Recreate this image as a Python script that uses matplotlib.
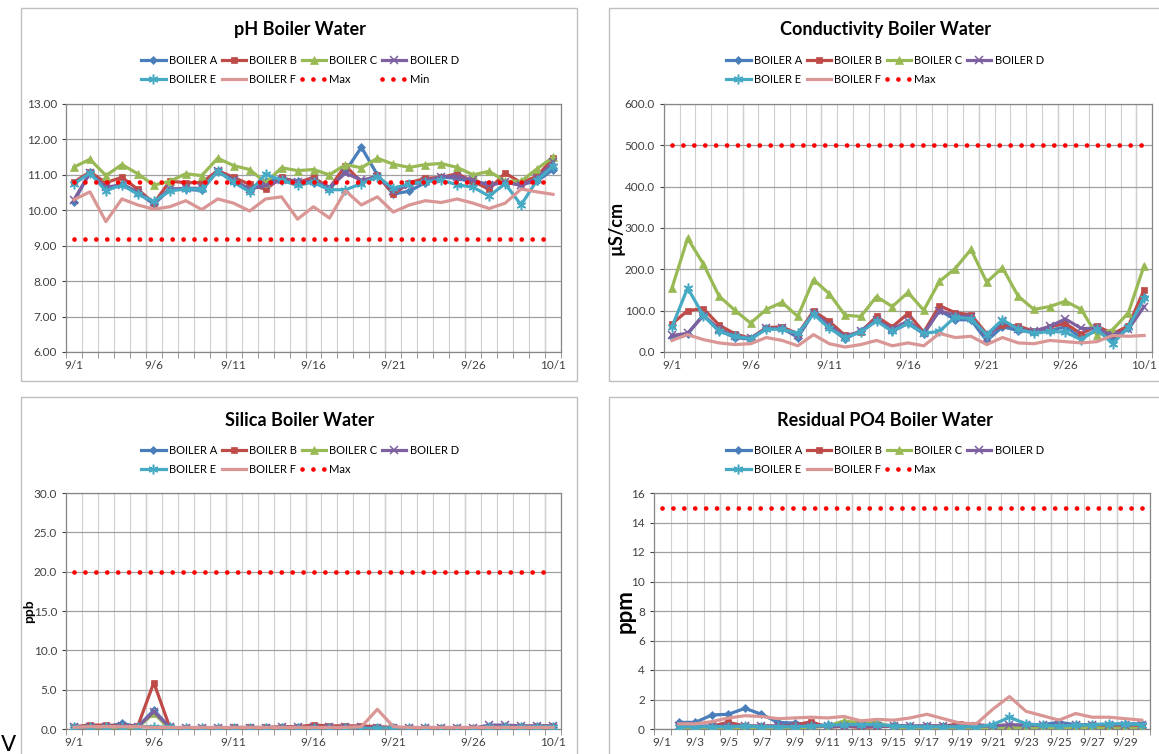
import numpy as np
import pandas as pd
import matplotlib
matplotlib.use("Agg")
import matplotlib.pyplot as plt
from matplotlib.patches import Rectangle
from matplotlib.ticker import FixedLocator, FormatStrFormatter

plt.rcParams['font.family'] = ['Lato', 'DejaVu Sans']

# --- data -------------------------------------------------------------
dates = pd.date_range('2013-09-01', '2013-10-01')
date_labels = [f"{d.month}/{d.day}" for d in dates]

boilers = ['BOILER A', 'BOILER B', 'BOILER C', 'BOILER D', 'BOILER E', 'BOILER F']

ph_a = [10.24, 11.08, 10.59, 10.75, 10.50, 10.17, 10.59, 10.59, 10.56, 11.12, 10.79, 10.54, 10.82, 10.90, 10.82, 10.78,
        10.59, 11.10, 11.78, 11.00, 10.46, 10.54, 10.78, 10.94, 10.90, 10.79, 10.75, 10.78, 10.73, 10.82, 11.15]
ph_b = [10.80, 11.08, 10.78, 10.93, 10.59, 10.20, 10.82, 10.78, 10.78, 11.12, 10.93, 10.73, 10.59, 10.93, 10.78, 10.93,
        10.63, 11.26, 10.79, 10.99, 10.45, 10.78, 10.90, 10.93, 11.03, 10.82, 10.59, 11.05, 10.78, 10.96, 11.47]
ph_c = [11.22, 11.44, 10.98, 11.29, 11.03, 10.71, 10.82, 11.03, 10.98, 11.47, 11.26, 11.15, 10.78, 11.20, 11.12, 11.15,
        11.00, 11.29, 11.20, 11.47, 11.30, 11.21, 11.29, 11.32, 11.21, 11.00, 11.10, 10.82, 10.82, 11.17, 11.50]
ph_d = [10.30, 11.05, 10.65, 10.72, 10.50, 10.22, 10.60, 10.62, 10.62, 11.10, 10.85, 10.60, 10.70, 10.85, 10.80, 10.82,
        10.65, 11.05, 10.85, 10.95, 10.55, 10.72, 10.82, 10.95, 10.95, 10.85, 10.70, 10.80, 10.70, 10.90, 11.35]
ph_e = [10.75, 11.05, 10.55, 10.72, 10.45, 10.25, 10.55, 10.60, 10.60, 11.10, 10.80, 10.52, 11.02, 10.85, 10.70, 10.80,
        10.58, 10.58, 10.75, 10.95, 10.62, 10.75, 10.80, 10.85, 10.72, 10.65, 10.40, 10.75, 10.15, 10.85, 11.25]
ph_f = [10.30, 10.52, 9.68, 10.32, 10.15, 10.03, 10.10, 10.27, 10.02, 10.32, 10.20, 9.98, 10.32, 10.38, 9.75, 10.10,
        9.78, 10.55, 10.15, 10.38, 9.95, 10.15, 10.27, 10.22, 10.32, 10.20, 10.05, 10.20, 10.60, 10.52, 10.45]
ph_max = 10.8
ph_min = 9.2

cond_a = [37, 44, 90, 52, 35, 31, 57, 58, 35, 95, 61, 31, 52, 78, 50, 69, 44, 101, 78, 78, 27, 61, 52, 48, 52, 61, 35, 52, 35, 57, 133]
cond_b = [68, 100, 105, 65, 44, 33, 59, 61, 44, 99, 74, 40, 48, 86, 61, 93, 48, 112, 95, 90, 44, 65, 63, 50, 61, 69, 44, 63, 44, 63, 151]
cond_c = [154, 275, 213, 135, 101, 70, 103, 120, 86, 175, 141, 89, 86, 134, 110, 144, 101, 171, 202, 248, 169, 204, 135, 103,
          110, 123, 103, 41, 54, 95, 209]
cond_d = [40, 45, 88, 55, 38, 33, 57, 57, 40, 95, 65, 36, 50, 78, 55, 75, 45, 100, 88, 85, 35, 75, 55, 50, 62, 80, 57, 57, 40, 55, 110]
cond_e = [60, 155, 88, 50, 38, 32, 55, 55, 45, 92, 57, 35, 48, 75, 50, 70, 45, 50, 85, 80, 42, 78, 55, 45, 50, 48, 30, 55, 20, 60, 130]
cond_f = [28, 42, 30, 22, 18, 20, 35, 28, 15, 42, 20, 12, 18, 28, 15, 22, 15, 45, 35, 38, 18, 35, 22, 20, 28, 25, 22, 25, 40, 38, 40]
cond_max = 500.0

si_a = [0.2, 0.3, 0.3, 0.7, 0.3, 2.4, 0.2, 0.1, 0.1, 0.1, 0.1, 0.1, 0.1, 0.2, 0.2, 0.2, 0.2, 0.2, 0.1, 0.1, 0.1, 0.1, 0.1, 0.1,
        0.1, 0.1, 0.3, 0.3, 0.3, 0.3, 0.3]
si_b = [0.3, 0.5, 0.5, 0.4, 0.4, 5.9, 0.2, 0.1, 0.1, 0.1, 0.2, 0.2, 0.2, 0.3, 0.3, 0.5, 0.4, 0.4, 0.4, 0.3, 0.2, 0.1, 0.1, 0.1,
        0.1, 0.1, 0.3, 0.3, 0.3, 0.4, 0.4]
si_c = [0.1, 0.2, 0.2, 0.2, 0.2, 2.0, 0.0, 0.0, 0.0, 0.0, 0.0, 0.0, 0.0, 0.1, 0.1, 0.1, 0.1, 0.1, 0.1, 0.1, 0.1, 0.0, 0.0, 0.0,
        0.0, 0.0, 0.1, 0.1, 0.1, 0.1, 0.1]
si_d = [0.2, 0.3, 0.3, 0.4, 0.3, 2.2, 0.2, 0.1, 0.1, 0.1, 0.1, 0.1, 0.1, 0.2, 0.2, 0.2, 0.2, 0.2, 0.2, 0.1, 0.1, 0.1, 0.1, 0.1,
        0.1, 0.1, 0.5, 0.5, 0.4, 0.4, 0.4]
si_e = [0.2, 0.3, 0.3, 0.3, 0.3, 0.3, 0.2, 0.1, 0.1, 0.1, 0.1, 0.1, 0.1, 0.1, 0.1, 0.1, 0.1, 0.1, 0.0, 0.1, 0.1, 0.1, 0.1, 0.0,
        0.0, -0.1, 0.2, 0.2, 0.2, 0.3, 0.3]
si_f = [0.2, 0.3, 0.3, 0.3, 0.3, 0.2, 0.2, 0.2, 0.2, 0.2, 0.2, 0.2, 0.2, 0.2, 0.2, 0.2, 0.2, 0.2, 0.3, 2.5, 0.3, 0.2, 0.2, 0.2,
        0.2, 0.2, 0.2, 0.2, 0.2, 0.2, 0.2]
si_max = 20.0

# PO4: axis 9/1..9/30, readings from 9/2
po4_a = [0.45, 0.45, 0.95, 1.0, 1.4, 1.0, 0.45, 0.40, 0.30, 0.25, 0.25, 0.25, 0.25, 0.25, 0.2, 0.2, 0.2, 0.2, 0.2, 0.2, 0.2,
         0.3, 0.3, 0.45, 0.3, 0.25, 0.3, 0.35, 0.35]
po4_b = [0.2, 0.1, 0.2, 0.45, 0.2, 0.2, 0.2, 0.25, 0.5, 0.1, 0.2, 0.1, 0.15, 0.2, 0.15, 0.2, 0.2, 0.35, 0.3, 0.2, 0.15, 0.05,
         0.05, 0.15, 0.2, 0.3, 0.15, 0.1, 0.15]
po4_c = [0.1, 0.1, 0.05, 0.05, 0.05, 0.05, 0.05, 0.05, 0.1, 0.2, 0.55, 0.4, 0.45, 0.1, 0.05, 0.05, 0.05, 0.05, 0.05, 0.1,
         0.1, 0.1, 0.1, 0.1, 0.1, 0.1, 0.05, 0.05, 0.05]
po4_d = [0.2, 0.2, 0.2, 0.2, 0.2, 0.2, 0.2, 0.2, 0.2, 0.2, 0.2, 0.2, 0.2, 0.2, 0.2, 0.2, 0.2, 0.2, 0.2, 0.2, 0.3, 0.25,
         0.25, 0.25, 0.25, 0.3, 0.3, 0.3, 0.3]
po4_e = [0.15, 0.15, 0.15, 0.15, 0.2, 0.15, 0.15, 0.15, 0.2, 0.25, 0.3, 0.3, 0.3, 0.2, 0.15, 0.15, 0.15, 0.15, 0.15, 0.3,
         0.8, 0.35, 0.25, 0.2, 0.25, 0.3, 0.35, 0.35, 0.3]
po4_f = [0.35, 0.35, 0.5, 0.75, 0.9, 0.85, 0.7, 0.75, 0.8, 0.75, 0.85, 0.55, 0.65, 0.6, 0.75, 1.0, 0.7, 0.4, 0.35, 1.35,
         2.2, 1.2, 0.9, 0.6, 1.05, 0.8, 0.8, 0.7, 0.6]
po4_max = 15.0

# --- styles -----------------------------------------------------------
colors = ['#4A7EBB', '#BE4B48', '#98B954', '#7D60A0', '#46AAC5', '#D99694']
markers = ['D', 's', '^', 'x', (6, 2, 0), None]
msizes = [4, 5, 6, 6, 7, 0]
red = '#FF0000'
dot_style = (0, (0.01, 2.3))

W, H = 1159, 754
fig = plt.figure(figsize=(W / 100, H / 100), dpi=100)


def px_axes(x0, y0, x1, y1):
    return fig.add_axes([x0 / W, 1 - y1 / H, (x1 - x0) / W, (y1 - y0) / H])


def panel_box(x0, y0, x1, y1):
    fig.add_artist(Rectangle((x0 / W, 1 - y1 / H), (x1 - x0) / W, (y1 - y0) / H,
                             transform=fig.transFigure, fill=False, edgecolor='#BFBFBF', lw=1))


def draw_chart(ax, x, series, lim_x, limits, title, title_xy, ylim, ystep, yfmt, nslots, label_every,
               major_every, ylabel=None, ylabel_size=10, ylabel_px=None):
    handles = []
    for name, vals, c, m, ms in zip(boilers, series, colors, markers, msizes):
        thin = m == 'x' or isinstance(m, tuple)
        h, = ax.plot(x, vals, color=c, lw=2.3, marker=m, ms=ms, mew=1.1 if thin else 0.5,
                     mec=c, label=name, zorder=3)
        handles.append(h)
    for lname, lval in limits:
        h, = ax.plot(lim_x, [lval] * len(lim_x), color=red, lw=3.4, linestyle=dot_style,
                     dash_capstyle='round', label=lname, zorder=4)
        handles.append(h)

    ax.set_xlim(-0.5, nslots - 0.5)
    ax.set_ylim(*ylim)
    ax.set_yticks(np.arange(ylim[0], ylim[1] + ystep / 2, ystep))
    ax.yaxis.set_major_formatter(FormatStrFormatter(yfmt))
    ax.set_xticks(np.arange(0, nslots, label_every))
    ax.set_xticklabels([date_labels[i] for i in range(0, nslots, label_every)])
    ax.xaxis.set_minor_locator(FixedLocator(np.arange(-0.5, nslots, 1)))
    ax.tick_params(axis='both', labelsize=8.5, colors='#404040', length=3, width=0.8)
    ax.tick_params(axis='x', which='major', length=0, pad=6)
    ax.tick_params(axis='x', which='minor', length=4, color='#868686')
    ax.grid(axis='x', which='minor', color='#D0D0D0', lw=0.8)
    for k in np.arange(-0.5 + major_every, nslots - 0.5, major_every):
        ax.axvline(k, color='#A0A0A0', lw=0.9, zorder=0.5)
    ax.grid(axis='y', which='major', color='#A0A0A0', lw=0.9)
    ax.set_axisbelow(True)
    for s in ax.spines.values():
        s.set_color('#868686')
        s.set_linewidth(0.9)
    if ylabel:
        bbox = ax.get_position()
        fig.text(ylabel_px / W, bbox.y0 + bbox.height / 2, ylabel, rotation=90, ha='center', va='center',
                 fontsize=ylabel_size, fontweight='bold')

    fig.text(title_xy[0] / W, 1 - title_xy[1] / H, title, ha='center', va='center',
             fontsize=13, fontweight='bold')
    # legend rows filled column-wise by matplotlib, so reorder to read row-wise
    order = [0, 4, 1, 5, 2, 6, 3] + ([7] if len(handles) > 7 else [])
    fig.legend([handles[i] for i in order], [handles[i].get_label() for i in order],
               loc='center', bbox_to_anchor=(title_xy[0] / W, 1 - (title_xy[1] + 40) / H),
               ncol=4, frameon=False, fontsize=8, handlelength=2.2, handletextpad=0.3,
               columnspacing=0.4, labelspacing=0.75, borderpad=0)


# panels
panel_box(21, 8, 577, 381)
panel_box(609, 8, 1175, 381)
panel_box(21, 397, 577, 770)
panel_box(609, 397, 1175, 770)

days31 = np.arange(31)

ax1 = px_axes(66, 104, 561, 352)
draw_chart(ax1, days31, [ph_a, ph_b, ph_c, ph_d, ph_e, ph_f], days31, [('Max', ph_max), ('Min', ph_min)],
           'pH Boiler Water', (300, 30), (6, 13), 1, '%.2f', 31, 5, 5)

ax2 = px_axes(664, 104, 1152, 352)
draw_chart(ax2, days31, [cond_a, cond_b, cond_c, cond_d, cond_e, cond_f], days31, [('Max', cond_max)],
           'Conductivity Boiler Water', (885, 30), (0, 600), 100, '%.1f', 31, 5, 5,
           ylabel='µS/cm', ylabel_size=13, ylabel_px=616)

ax3 = px_axes(66, 493, 561, 729)
draw_chart(ax3, days31, [si_a, si_b, si_c, si_d, si_e, si_f], days31, [('Max', si_max)],
           'Silica Boiler Water', (300, 420), (0, 30), 5, '%.1f', 31, 5, 5,
           ylabel='ppb', ylabel_size=10, ylabel_px=29)

po4_days = np.arange(1, 30)
po4_lim_days = np.arange(0, 30)
ax4 = px_axes(654, 493, 1150, 729)
draw_chart(ax4, po4_days, [po4_a, po4_b, po4_c, po4_d, po4_e, po4_f], po4_lim_days, [('Max', po4_max)],
           'Residual PO4 Boiler Water', (885, 420), (0, 16), 2, '%d', 30, 2, 4,
           ylabel='ppm', ylabel_size=16, ylabel_px=625)

fig.text(8 / W, 1 - 745 / H, 'V', fontsize=16, ha='center', va='center', family='DejaVu Sans')

fig.savefig('out.png', dpi=100)
